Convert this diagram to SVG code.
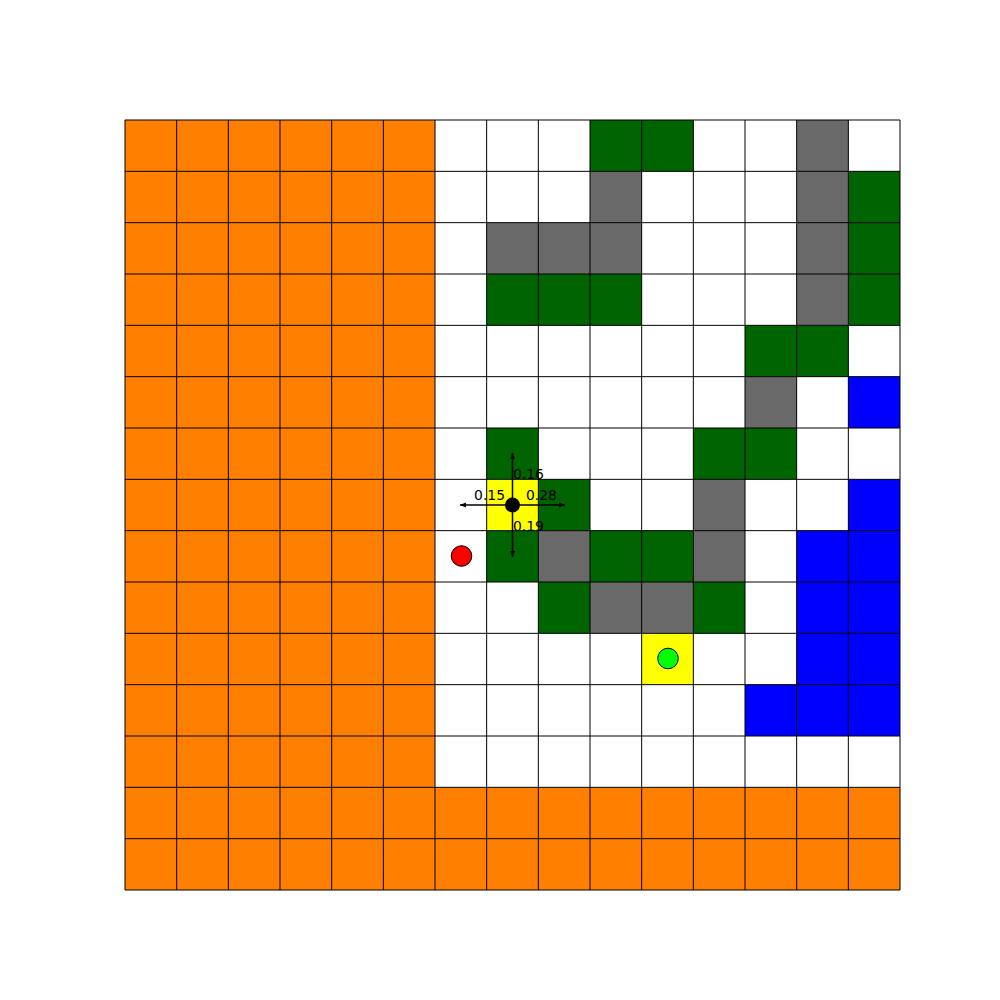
<svg xmlns="http://www.w3.org/2000/svg" width="1000" height="1000" viewBox="0 0 1000 1000">
<style>
.o{fill:#ff8000}.g{fill:#006400}.s{fill:#696969}.b{fill:#0000ff}.y{fill:#ffff00}
.grid{stroke:#000;stroke-width:1;fill:none}
.arr{stroke:#000;stroke-width:1.5;fill:none}
.lbl{font-family:"DejaVu Sans",sans-serif;font-size:13.9px;fill:#000}
</style>
<defs>
<marker id="ah" viewBox="0 0 10 10" refX="10" refY="5" markerWidth="6" markerHeight="6" markerUnits="userSpaceOnUse" orient="auto">
<path d="M0,1 L10,5 L0,9 Z" fill="#000"/>
</marker>
</defs>
<rect width="1000" height="1000" fill="#fff"/>
<g id="cells" transform="translate(125 120) scale(51.6667 51.3333)">
<rect x="0" y="0" width="15" height="15" fill="#fff"/>
<rect class="o" x="0" y="0" width="6" height="15"/>
<rect class="o" x="6" y="13" width="9" height="2"/>
<g class="g">
<rect x="9" y="0" width="2" height="1"/><rect x="14" y="1" width="1" height="3"/>
<rect x="7" y="3" width="3" height="1"/><rect x="12" y="4" width="2" height="1"/>
<rect x="7" y="6" width="1" height="1"/><rect x="11" y="6" width="2" height="1"/>
<rect x="8" y="7" width="1" height="1"/><rect x="7" y="8" width="1" height="1"/>
<rect x="9" y="8" width="2" height="1"/><rect x="8" y="9" width="1" height="1"/>
<rect x="11" y="9" width="1" height="1"/>
</g>
<g class="s">
<rect x="13" y="0" width="1" height="4"/><rect x="9" y="1" width="1" height="2"/>
<rect x="7" y="2" width="2" height="1"/><rect x="12" y="5" width="1" height="1"/>
<rect x="11" y="7" width="1" height="2"/><rect x="8" y="8" width="1" height="1"/>
<rect x="9" y="9" width="2" height="1"/>
</g>
<g class="b">
<rect x="14" y="5" width="1" height="1"/><rect x="14" y="7" width="1" height="5"/>
<rect x="13" y="8" width="1" height="4"/><rect x="12" y="11" width="1" height="1"/>
</g>
<g class="y">
<rect x="7" y="7" width="1" height="1"/><rect x="10" y="10" width="1" height="1"/>
</g>
</g>
<g id="gridlines">
<path class="grid" d="M125,120V890M176.67,120V890M228.33,120V890M280,120V890M331.67,120V890M383.33,120V890M435,120V890M486.67,120V890M538.33,120V890M590,120V890M641.67,120V890M693.33,120V890M745,120V890M796.67,120V890M848.33,120V890M900,120V890
M125,120H900M125,171.33H900M125,222.67H900M125,274H900M125,325.33H900M125,376.67H900M125,428H900M125,479.33H900M125,530.67H900M125,582H900M125,633.33H900M125,684.67H900M125,736H900M125,787.33H900M125,838.67H900M125,890H900"/>
</g>
<g id="connectors">
<line class="arr" x1="512.5" y1="505" x2="512.5" y2="453" marker-end="url(#ah)"/>
<line class="arr" x1="512.5" y1="505" x2="512.5" y2="557" marker-end="url(#ah)"/>
<line class="arr" x1="512.5" y1="505" x2="460" y2="505" marker-end="url(#ah)"/>
<line class="arr" x1="512.5" y1="505" x2="565" y2="505" marker-end="url(#ah)"/>
</g>
<g id="agent"><circle cx="512.5" cy="505" r="7.5" fill="#000"/></g>
<g id="red"><circle cx="461.5" cy="556" r="10.3" fill="#ff0000" stroke="#000" stroke-width="1"/></g>
<g id="goal"><circle cx="668" cy="658.5" r="10.3" fill="#00ff00" stroke="#000" stroke-width="1"/></g>
<g id="labels">
<text class="lbl" x="513" y="479">0.16</text>
<text class="lbl" x="505" y="500" text-anchor="end">0.15</text>
<text class="lbl" x="526" y="500">0.28</text>
<text class="lbl" x="513" y="531">0.19</text>
</g>
</svg>
